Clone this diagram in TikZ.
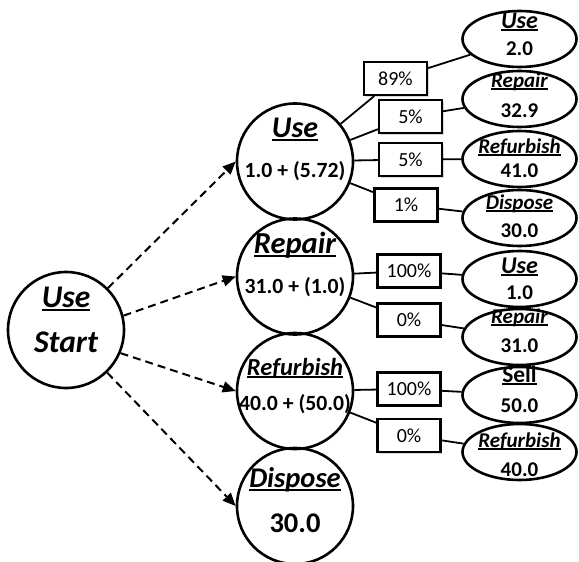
\documentclass[tikz,border=0pt]{standalone}
\usepackage{fontspec}
\setmainfont{Carlito}
\usetikzlibrary{arrows.meta,shapes.geometric,shadows}
\newsavebox\ulbox
\newcommand\ulw[1]{\sbox\ulbox{#1}\rlap{\rule[-0.13em]{\wd\ulbox}{0.075em}}\usebox\ulbox}
\tikzset{
 bigc/.style={circle, draw, line width=2.6pt, minimum size=116pt, inner sep=0pt},
 ell/.style={ellipse, draw, line width=2.6pt, minimum width=114pt, minimum height=56pt, inner sep=0pt},
 pbox/.style={rectangle, draw, line width=2.2pt, minimum width=63pt, minimum height=33pt, inner sep=0pt, fill=white,
   font=\fontsize{20}{21}\selectfont,
   drop shadow={opacity=0.3, shadow xshift=1.5pt, shadow yshift=-1.5pt}},
 lbl/.style={anchor=base, inner sep=0pt, font=\fontsize{#1}{#1}\selectfont\bfseries\itshape},
 lblup/.style={anchor=base, inner sep=0pt, font=\fontsize{#1}{#1}\selectfont\bfseries},
 val/.style={anchor=base, inner sep=0pt, font=\fontsize{#1}{#1}\selectfont\bfseries},
 link/.style={line width=1.8pt},
 darr/.style={line width=2pt, dash pattern=on 8pt off 5pt, -{Triangle[length=13pt,width=11pt]}}
}
\begin{document}
\begin{tikzpicture}[x=1pt,y=-1pt]
\useasboundingbox (0,0) rectangle (579,562);
% start
\node[bigc] (start) at (66,330) {};
\node[lbl=31.5] (startL) at (66,307) {\ulw{Use}};
\node[lbl=31.5] (startV) at (66,352) {Start};
% middle column
\node[bigc] (use) at (295,161.5) {};
\node[lbl=30] (useL) at (295,137) {\ulw{Use}};
\node[val=21.7] (useV) at (295,177) {1.0 + (5.72)};
\node[bigc] (rep) at (295,276.5) {};
\node[lbl=30.5] (repL) at (295,253) {\ulw{Repair}};
\node[val=21.7] (repV) at (295,293) {31.0 + (1.0)};
\node[bigc] (ref) at (295,391) {};
\node[lbl=24.5] (refL) at (295,375) {\ulw{Refurbish}};
\node[val=21.7] (refV) at (295,410) {40.0 + (50.0)};
\node[bigc] (dis) at (295,506) {};
\node[lbl=28.5] (disL) at (295,487) {\ulw{Dispose}};
\node[val=28.5] (disV) at (295,532) {30.0};
% boxes
\node[pbox] (b1) at (395.5,78.5) {89\%};
\node[pbox] (b2) at (410.5,116.5) {5\%};
\node[pbox] (b3) at (410.5,159.5) {5\%};
\node[pbox] (b4) at (406,205) {1\%};
\node[pbox] (b5) at (409,271) {100\%};
\node[pbox] (b6) at (409,320) {0\%};
\node[pbox] (b7) at (409,389) {100\%};
\node[pbox] (b8) at (409,435.5) {0\%};
% ellipses
\node[ell] (e1) at (519.5,39) {};
\node[lbl=24] (e1L) at (519.5,28) {\ulw{Use}};
\node[val=21] (e1V) at (519.5,55) {2.0};
\node[ell] (e2) at (519.5,99) {};
\node[lbl=21] (e2L) at (519.5,87) {\ulw{Repair}};
\node[val=21] (e2V) at (519.5,117) {32.9};
\node[ell] (e3) at (519.5,159) {};
\node[lbl=21] (e3L) at (519.5,153) {\ulw{Refurbish}};
\node[val=21] (e3V) at (519.5,177) {41.0};
\node[ell] (e4) at (519.5,218) {};
\node[lbl=21] (e4L) at (519.5,209) {\ulw{Dispose}};
\node[val=21] (e4V) at (519.5,237) {30.0};
\node[ell] (e5) at (519.5,279) {};
\node[lbl=24] (e5L) at (519.5,273) {\ulw{Use}};
\node[val=21] (e5V) at (519.5,299) {1.0};
\node[ell] (e6) at (519.5,337) {};
\node[lbl=21] (e6L) at (519.5,323) {\ulw{Repair}};
\node[val=21] (e6V) at (519.5,352) {31.0};
\node[ell] (e7) at (519.5,395) {};
\node[lblup=23.5] (e7L) at (519.5,382) {\ulw{Sell}};
\node[val=21] (e7V) at (519.5,412) {50.0};
\node[ell] (e8) at (519.5,452) {};
\node[lbl=21] (e8L) at (519.5,447) {\ulw{Refurbish}};
\node[val=21] (e8V) at (519.5,476) {40.0};
% dashed arrows
\draw[darr] (start.45) -- (use.west);
\draw[darr] (start.14) -- (rep.west);
\draw[darr] (start.-23) -- (ref.west);
\draw[darr] (start.-46) -- (dis.west);
% links
\draw[link] (use) -- (b1);
\draw[link] (use) -- (b2);
\draw[link] (use) -- (b3);
\draw[link] (use) -- (b4);
\draw[link] (rep) -- (b5);
\draw[link] (rep) -- (b6);
\draw[link] (ref) -- (b7);
\draw[link] (ref) -- (b8);
\draw[link] (b1) -- (e1);
\draw[link] (b2) -- (e2);
\draw[link] (b3) -- (e3);
\draw[link] (b4) -- (e4);
\draw[link] (b5) -- (e5);
\draw[link] (b6) -- (e6);
\draw[link] (b7) -- (e7);
\draw[link] (b8) -- (e8);
\end{tikzpicture}
\end{document}
